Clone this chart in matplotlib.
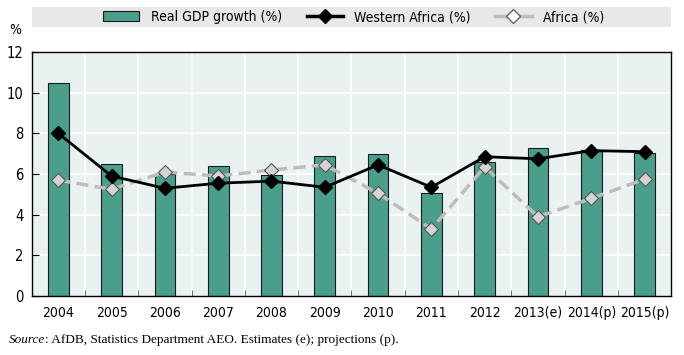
import matplotlib
matplotlib.use('Agg')
import matplotlib.pyplot as plt
from matplotlib.patches import Rectangle
from matplotlib.lines import Line2D
import numpy as np

# values
years = ['2004', '2005', '2006', '2007', '2008', '2009', '2010', '2011',
         '2012', '2013(e)', '2014(p)', '2015(p)']
gdp_growth = [10.5, 6.5, 6.0, 6.4, 5.95, 6.9, 7.0, 5.05, 6.6, 7.3, 7.2, 7.05]
western_africa = [8.0, 5.9, 5.3, 5.55, 5.65, 5.35, 6.45, 5.35, 6.85, 6.75, 7.15, 7.1]
africa = [5.7, 5.25, 6.1, 5.9, 6.2, 6.45, 5.05, 3.3, 6.35, 3.9, 4.8, 5.75]

# condensed sans, close to the narrow font in the original
plt.rcParams['font.family'] = ['DejaVu Sans']
plt.rcParams['font.stretch'] = 'condensed'

fig = plt.figure(figsize=(6.84, 3.55), dpi=100)
ax = fig.add_axes([0.0463, 0.166, 0.935, 0.6875])
ax.set_facecolor('#eaf2f1')

x = np.arange(len(years))
ax.bar(x, gdp_growth, width=0.39, color='#4a9e8b', edgecolor='#1a1a1a',
       linewidth=0.8, zorder=2)
ax.plot(x, western_africa, color='black', linewidth=2, marker='D',
        markersize=7, markerfacecolor='black', markeredgecolor='black', zorder=4)
ax.plot(x, africa, color='#bdbdbd', linewidth=2.5, dashes=(3.5, 1.8), marker='D',
        markersize=7, markerfacecolor='#d4d4d4', markeredgecolor='#555555',
        markeredgewidth=0.8, zorder=3)

ax.set_xlim(-0.5, len(years) - 0.5)
ax.set_ylim(0, 12)
ax.set_yticks(range(0, 13, 2))
ax.tick_params(axis='y', direction='in', length=5, labelsize=10.5, pad=6)

# category labels centred, ticks on the boundaries
ax.set_xticks(x)
ax.set_xticklabels(years, fontsize=10)
ax.tick_params(axis='x', length=0, pad=7)
ax.set_xticks(np.arange(0.5, len(years) - 1, 1), minor=True)
ax.tick_params(axis='x', which='minor', direction='in', length=4, color='#555555')

for y in range(2, 12, 2):
    ax.axhline(y, color='white', linewidth=1.2, zorder=1)
for b in np.arange(0.5, len(years) - 1, 1):
    ax.axvline(b, color='white', linewidth=1.2, zorder=1)

for s in ax.spines.values():
    s.set_color('black')
    s.set_linewidth(1)

fig.text(0.014, 0.905, '%', fontsize=10)

# grey legend band above the plot
fig.patches.append(Rectangle((0.0463, 0.924), 0.935, 0.056, transform=fig.transFigure,
                             facecolor='#e8e8e8', edgecolor='none', zorder=0))
handles = [Rectangle((0, 0), 1, 1, facecolor='#4a9e8b', edgecolor='#1a1a1a', linewidth=0.8),
           Line2D([], [], color='black', linewidth=2.5, marker='D', markersize=7),
           Line2D([], [], color='#bdbdbd', linewidth=2.5, marker='D', markersize=7,
                  markerfacecolor='#ffffff', markeredgecolor='#666666')]
fig.legend(handles, ['Real GDP growth (%)', 'Western Africa (%)', 'Africa (%)'],
           loc='center', bbox_to_anchor=(0.517, 0.952), ncol=3, frameon=False,
           fontsize=10, handlelength=2.6, columnspacing=1.8, handletextpad=0.8)

src = fig.text(0.013, 0.035, 'Source', fontsize=9.5, style='italic', family='Liberation Serif')
ax.annotate(': AfDB, Statistics Department AEO. Estimates (e); projections (p).',
            xy=(1, 0), xycoords=src, va='bottom', fontsize=9.5, family='Liberation Serif',
            annotation_clip=False)

fig.savefig('out.png', dpi=100)
